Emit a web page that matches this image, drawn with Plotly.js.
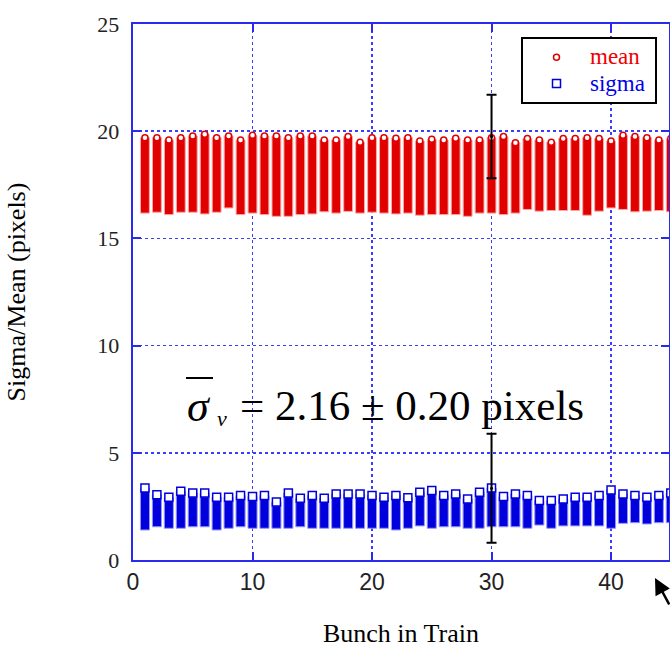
<!DOCTYPE html>
<html>
<head>
<meta charset="utf-8">
<script src="https://cdn.plot.ly/plotly-3.0.1.min.js"></script>
<style>
  html, body { margin: 0; padding: 0; background: #fff; overflow: hidden; }
  #chart { width: 670px; height: 649px; }
</style>
</head>
<body>
<div id="chart"></div>
<script>
// Bunch number in the train
const bunch = [1,2,3,4,5,6,7,8,9,10,11,12,13,14,15,16,17,18,19,20,21,22,23,24,25,26,27,28,29,30,31,32,33,34,35,36,37,38,39,40,41,42,43,44,45];

// Mean (pixels): lowest and highest value per bunch
const meanLow = [16.18,16.22,16.11,16.22,16.22,16.14,16.22,16.42,16.11,16.18,16.11,16.03,16.03,16.11,16.14,16.24,
                 16.18,16.26,16.18,16.22,16.18,16.14,16.18,16.08,16.11,16.11,16.11,16.03,16.18,16.18,16.11,16.18,
                 16.35,16.27,16.30,16.30,16.30,16.08,16.27,16.42,16.35,16.24,16.27,16.30,16.24];
const meanHigh = [19.70,19.70,19.59,19.70,19.78,19.86,19.70,19.78,19.59,19.81,19.78,19.78,19.70,19.78,19.78,19.59,
                  19.59,19.75,19.49,19.70,19.70,19.67,19.70,19.54,19.62,19.59,19.67,19.59,19.59,19.70,19.75,19.46,
                  19.66,19.59,19.49,19.66,19.66,19.70,19.66,19.54,19.81,19.75,19.70,19.59,19.66];

// Sigma (pixels): lowest and highest value per bunch
const sigmaLow = [1.40,1.55,1.48,1.48,1.55,1.55,1.40,1.48,1.55,1.48,1.48,1.48,1.48,1.55,1.48,1.48,
                  1.48,1.48,1.48,1.48,1.48,1.40,1.48,1.59,1.48,1.55,1.55,1.48,1.48,1.55,1.55,1.55,
                  1.48,1.63,1.48,1.59,1.59,1.59,1.59,1.48,1.71,1.74,1.68,1.74,1.74];
const sigmaHigh = [3.36,3.04,2.93,3.21,3.12,3.12,2.93,2.93,3.01,2.96,3.01,2.70,3.12,2.88,3.01,2.88,
                   3.08,3.08,3.08,3.01,2.93,3.01,2.90,3.16,3.24,3.01,3.08,2.85,3.16,3.36,2.96,3.08,
                   3.01,2.77,2.77,2.85,2.93,2.93,3.01,3.27,3.08,3.01,2.93,3.01,3.12];

// Error bars drawn at one bunch
const errBunch = [30];
const errMean = [19.75];
const errMeanSize = [1.95];
const errSigma = [3.35];
const errSigmaSize = [2.54];

// Axis ticks
const xTicks = [0, 10, 20, 30, 40];
const yTicks = [0, 5, 10, 15, 20, 25];

const RED = '#e00000';
const BLUE = '#0000dd';
const AXBLUE = '#2a2aee';
const SERIF = 'Liberation Serif, Times New Roman, serif';

const meanSpan = meanHigh.map((h, i) => h - meanLow[i]);
const sigmaSpan = sigmaHigh.map((h, i) => h - sigmaLow[i]);

const traces = [
  {
    type: 'bar', x: bunch, y: meanSpan, base: meanLow, width: 0.74,
    marker: { color: RED, line: { color: 'rgba(255,165,165,1)', width: 1 } },
    showlegend: false, hoverinfo: 'skip'
  },
  {
    type: 'bar', x: bunch, y: sigmaSpan, base: sigmaLow, width: 0.76,
    marker: { color: BLUE, line: { color: 'rgba(150,150,255,1)', width: 1 } },
    showlegend: false, hoverinfo: 'skip'
  },
  {
    type: 'scatter', mode: 'markers', x: bunch, y: meanHigh,
    name: '<span style="color:#ee0000;font-size:23px">mean</span>\u00a0',
    marker: { symbol: 'circle', size: 6, color: '#ffffff', line: { color: RED, width: 1.5 } }
  },
  {
    type: 'scatter', mode: 'markers', x: bunch, y: sigmaHigh,
    name: '<span style="color:#0000ee;font-size:23px">sigma</span>\u00a0',
    marker: { symbol: 'square', size: 8, color: '#ffffff', line: { color: BLUE, width: 1.5 } }
  },
  {
    type: 'scatter', mode: 'markers', x: errBunch, y: errMean, showlegend: false,
    marker: { size: 3, color: '#000' },
    error_y: { type: 'data', array: errMeanSize, visible: true, color: '#000', thickness: 2, width: 5 }
  },
  {
    type: 'scatter', mode: 'markers', x: errBunch, y: errSigma, showlegend: false,
    marker: { size: 3, color: '#000' },
    error_y: { type: 'data', array: errSigmaSize, visible: true, color: '#000', thickness: 2, width: 5 }
  }
];

const L = 133, R = 669, T = 24, B = 560;
const px = v => (v - L) / (R - L);
const py = v => (B - v) / (B - T);

const layout = {
  width: 670, height: 649,
  margin: { l: 133, r: 1, t: 24, b: 89 },
  paper_bgcolor: '#ffffff', plot_bgcolor: '#ffffff',
  barmode: 'overlay',
  showlegend: true,
  legend: {
    x: px(657), xanchor: 'right', y: py(37), yanchor: 'top',
    bgcolor: '#ffffff', bordercolor: '#000000', borderwidth: 2,
    font: { family: SERIF, size: 18, color: '#000' },
    itemwidth: 57, tracegroupgap: 0
  },
  xaxis: {
    range: [0, 44.85], tickvals: xTicks, ticktext: xTicks.map(String),
    ticks: 'inside', ticklen: 8, tickwidth: 2, tickcolor: AXBLUE,
    showline: true, linecolor: AXBLUE, linewidth: 2, mirror: 'ticks',
    showgrid: true, gridcolor: '#3c3cff', griddash: 'dot', gridwidth: 1.5,
    zeroline: false,
    tickfont: { family: 'Liberation Sans Narrow, Liberation Sans, Arial, sans-serif', size: 23, color: '#222' },
    title: { text: 'Bunch in Train', standoff: 30,
             font: { family: SERIF, size: 26, color: '#000' } }
  },
  yaxis: {
    range: [0, 25], tickvals: yTicks, ticktext: yTicks.map(v => v + '\u2004'),
    ticks: 'inside', ticklen: 8, tickwidth: 2, tickcolor: AXBLUE,
    showline: true, linecolor: AXBLUE, linewidth: 2, mirror: 'ticks',
    showgrid: true, gridcolor: '#3c3cff', griddash: 'dot', gridwidth: 1.5,
    zeroline: false,
    tickfont: { family: SERIF, size: 22, color: '#222' },
    title: { text: 'Sigma/Mean (pixels)', standoff: 64,
             font: { family: SERIF, size: 26, color: '#000' } }
  },
  annotations: [
    { xref: 'paper', yref: 'paper', x: px(185), y: py(406), xanchor: 'left', yanchor: 'middle',
      text: '<i>σ</i>', showarrow: false,
      font: { family: SERIF, size: 44, color: '#000' } },
    { xref: 'paper', yref: 'paper', x: px(215), y: py(418), xanchor: 'left', yanchor: 'middle',
      text: '<i>v</i>', showarrow: false,
      font: { family: SERIF, size: 22, color: '#000' } },
    { xref: 'paper', yref: 'paper', x: px(238), y: py(405), xanchor: 'left', yanchor: 'middle',
      text: '= 2.16 ± 0.20 pixels', showarrow: false,
      font: { family: SERIF, size: 43, color: '#000' } },
    { xref: 'paper', yref: 'paper', x: px(655), y: py(578), showarrow: true, text: '',
      ax: 32, ay: 28, arrowhead: 2, arrowsize: 1.3, arrowwidth: 2.5, arrowcolor: '#000' }
  ],
  shapes: [
    { type: 'line', xref: 'paper', yref: 'paper', x0: px(186), x1: px(213), y0: py(378), y1: py(378),
      line: { color: '#000', width: 2 } }
  ]
};

Plotly.newPlot('chart', traces, layout, { staticPlot: true, displayModeBar: false });
</script>
</body>
</html>
